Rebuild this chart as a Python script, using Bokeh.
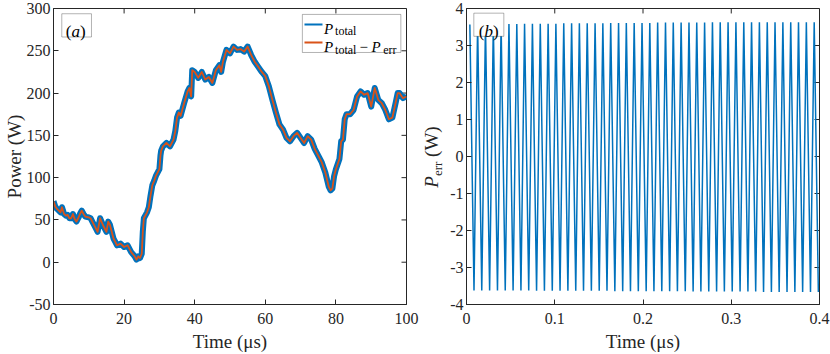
import math
from bokeh.plotting import figure
from bokeh.layouts import row
from bokeh.models import BoxAnnotation, Label, FixedTicker, Range1d, Div
from bokeh.embed import file_html
from bokeh.resources import INLINE

# ---------------- data ----------------
# Panel (a): P_total - P_err (W) versus time (us)
time_a = [0, 0.5, 1, 1.5, 2, 2.4, 3, 3.5, 4, 4.5,
          5, 5.5, 6, 6.5, 7, 7.5, 8, 8.5, 9, 10,
          10.5, 11, 12, 12.5, 13.2, 14, 15, 15.5, 16, 17,
          17.5, 18, 19, 20, 21, 22, 23, 23.5, 24, 24.5,
          25, 25.3, 25.6, 26.5, 27, 27.5, 28, 28.5, 29, 30,
          30.3, 30.5, 31, 32, 33, 34, 34.5, 35, 35.5, 36,
          37, 38, 38.5, 39, 39.3, 40, 41, 42, 43, 44,
          45, 46, 47, 47.5, 48, 49, 50, 51, 52, 53,
          54, 55, 56, 57, 58, 59, 60, 61, 62, 63,
          64, 65, 66, 67, 68, 69, 70, 71, 72, 73,
          74, 75, 76, 77, 78, 78.5, 79, 79.5, 80, 81,
          81.5, 82, 82.5, 83, 84, 85, 86, 87, 88, 89,
          90, 91, 92, 93, 94, 95, 96, 97, 97.5, 98,
          99, 100]
power_a = [72, 66, 63, 61, 59, 65, 57, 55, 56, 52,
           52, 57, 51, 48, 52, 57, 61, 57, 54, 53,
           52, 48, 40, 36, 52, 44, 36, 48, 44, 28,
           24, 20, 22, 18, 20, 12, 7, 3, 7, 5,
           10, 36, 52, 59, 65, 79, 91, 96, 102, 110,
           126, 132, 137, 141, 137, 145, 155, 171, 177, 173,
           188, 202, 206, 196, 227, 225, 218, 225, 216, 219,
           212, 227, 233, 225, 237, 251, 247, 255, 251, 252,
           249, 255, 245, 237, 231, 225, 220, 208, 192, 177,
           163, 157, 147, 143, 149, 153, 147, 141, 149, 145,
           134, 126, 118, 106, 89, 85, 87, 102, 110, 122,
           143, 145, 169, 175, 175, 180, 196, 202, 198, 200,
           184, 206, 192, 188, 180, 169, 171, 190, 200, 200,
           194, 196]

# Panel (b): P_err (W) -- sampled peaks (top) and troughs (bottom)
t_top = [0.0038, 0.0126, 0.0215, 0.0304, 0.0392, 0.0481, 0.0570, 0.0658, 0.0747, 0.0836,
         0.0925, 0.1013, 0.1102, 0.1191, 0.1279, 0.1368, 0.1457, 0.1545, 0.1634, 0.1723,
         0.1811, 0.1900, 0.1989, 0.2077, 0.2166, 0.2255, 0.2343, 0.2432, 0.2521, 0.2609,
         0.2698, 0.2787, 0.2875, 0.2964, 0.3053, 0.3142, 0.3230, 0.3319, 0.3408, 0.3496,
         0.3585, 0.3674, 0.3762, 0.3851, 0.3940]
v_top = [3.57, 3.57, 3.58, 3.58, 3.58, 3.58, 3.58, 3.59, 3.59, 3.59,
         3.59, 3.59, 3.60, 3.60, 3.60, 3.60, 3.60, 3.60, 3.61, 3.61,
         3.61, 3.61, 3.61, 3.61, 3.62, 3.62, 3.62, 3.62, 3.62, 3.62,
         3.62, 3.63, 3.63, 3.63, 3.63, 3.63, 3.63, 3.63, 3.63, 3.63,
         3.63, 3.63, 3.63, 3.63, 3.63]
t_bot = [0.0085, 0.0173, 0.0262, 0.0351, 0.0439, 0.0528, 0.0617, 0.0705, 0.0794, 0.0883,
         0.0972, 0.1060, 0.1149, 0.1238, 0.1326, 0.1415, 0.1504, 0.1592, 0.1681, 0.1770,
         0.1858, 0.1947, 0.2036, 0.2124, 0.2213, 0.2302, 0.2390, 0.2479, 0.2568, 0.2656,
         0.2745, 0.2834, 0.2922, 0.3011, 0.3100, 0.3189, 0.3277, 0.3366, 0.3455, 0.3543,
         0.3632, 0.3721, 0.3809, 0.3898, 0.3987]
v_bot = [-3.62, -3.62, -3.62, -3.62, -3.62, -3.62, -3.62, -3.62, -3.63, -3.63,
         -3.63, -3.63, -3.63, -3.63, -3.63, -3.63, -3.63, -3.63, -3.64, -3.64,
         -3.64, -3.64, -3.64, -3.64, -3.64, -3.64, -3.64, -3.64, -3.65, -3.65,
         -3.65, -3.65, -3.65, -3.65, -3.65, -3.65, -3.65, -3.66, -3.66, -3.66,
         -3.66, -3.66, -3.66, -3.66, -3.66]

x_ticks_a = [0, 20, 40, 60, 80, 100]
y_ticks_a = [-50, 0, 50, 100, 150, 200, 250, 300]
x_ticks_b = [0, 0.1, 0.2, 0.3, 0.4]
y_ticks_b = [-4, -3, -2, -1, 0, 1, 2, 3, 4]

t_err = [v for pair in zip(t_top, t_bot) for v in pair]
p_err = [v for pair in zip(v_top, v_bot) for v in pair]

# ---------------- style ----------------
FONT = "Liberation Serif"
AX = "#262626"
BLUE = "#0072BD"
ORANGE = "#D95319"
TICK_FS = "16px"
LABEL_FS = "19px"
H = 354


def make_fig(width, xr, yr, xticks, yticks, left, right, tick_dx, tick_dy):
    p = figure(width=width, height=H, x_range=Range1d(*xr), y_range=Range1d(*yr),
               output_backend="svg", toolbar_location=None,
               min_border_left=left, min_border_right=right,
               min_border_top=8, min_border_bottom=40)
    p.background_fill_color = "white"
    p.border_fill_color = "white"
    p.outline_line_color = AX
    p.outline_line_width = 1
    p.grid.visible = False
    xa = p.below[0]
    ya = p.left[0]
    xa.ticker = FixedTicker(ticks=xticks)
    ya.ticker = FixedTicker(ticks=yticks)
    xa.major_label_overrides = {t: ("-%g" % abs(t)) for t in xticks if t < 0}
    ya.major_label_overrides = {t: ("-%g" % abs(t)) for t in yticks if t < 0}
    for ax in (xa, ya):
        ax.major_tick_in = 5
        ax.major_tick_out = 0
        ax.minor_tick_line_color = None
        ax.axis_line_color = AX
        ax.major_tick_line_color = AX
        ax.major_label_text_font = FONT
        ax.major_label_text_font_size = TICK_FS
        ax.major_label_text_color = AX
        ax.axis_label_text_font = FONT
        ax.axis_label_text_font_size = LABEL_FS
        ax.axis_label_text_font_style = "normal"
        ax.axis_label_text_color = AX
    xa.major_label_standoff = 8
    xa.axis_label_standoff = 4
    ya.major_label_standoff = 3
    ya.axis_label_standoff = -1
    # inward ticks on the top and right edges of the box, at the same tick values
    xmax, ymax = xr[1], yr[1]
    p.segment(x0=xticks, y0=[ymax] * len(xticks), x1=xticks,
              y1=[ymax - tick_dy] * len(xticks), line_color=AX, line_width=1)
    p.segment(x0=[xmax] * len(yticks), y0=yticks, x1=[xmax - tick_dx] * len(yticks),
              y1=yticks, line_color=AX, line_width=1)
    return p, xa, ya


def txt(p, x, y, s, size, style="normal"):
    p.add_layout(Label(x=x, y=y, text=s, text_font=FONT, text_font_size=size,
                       text_font_style=style, text_color="black",
                       text_align="left", text_baseline="alphabetic"))


# ---------------- panel (a) ----------------
p1, xa1, ya1 = make_fig(426, (0, 100), (-50, 300), x_ticks_a, y_ticks_a, 53, 20,
                        5 / 3.53, 5 / 0.8514)
xa1.axis_label = "Time (\u03bcs)"
ya1.axis_label = "Power (W)"

p1.line(time_a, power_a, line_color=BLUE, line_width=6, line_join="round")
p1.line(time_a, power_a, line_color=ORANGE, line_width=1.8, line_join="round")

# panel tag (a)
p1.add_layout(BoxAnnotation(left=2.35, right=10.76, bottom=266.3, top=293.8,
                            fill_color="white", fill_alpha=1.0,
                            line_color="black", line_width=1))
txt(p1, 3.48, 273.0, "(", "17px")
txt(p1, 5.09, 273.0, "a", "17px", "italic")
txt(p1, 7.50, 273.0, ")", "17px")

# legend
p1.add_layout(BoxAnnotation(left=70.5, right=98.4, bottom=248.0, top=293.0,
                            fill_color="white", fill_alpha=1.0,
                            line_color="black", line_width=1))
p1.add_layout(BoxAnnotation(left=71.1, right=76.2, bottom=280.0, top=282.4,
                            fill_color=BLUE, fill_alpha=1.0, line_alpha=0))
p1.add_layout(BoxAnnotation(left=71.1, right=76.2, bottom=258.5, top=260.9,
                            fill_color=ORANGE, fill_alpha=1.0, line_alpha=0))
txt(p1, 76.65, 275.9, "P", "15px", "italic")
txt(p1, 79.76, 273.3, "total", "12px")
txt(p1, 76.65, 254.2, "P", "15px", "italic")
txt(p1, 79.76, 251.5, "total", "12px")
txt(p1, 86.70, 254.2, "\u2212", "15px")
txt(p1, 90.10, 254.2, "P", "15px", "italic")
txt(p1, 93.40, 251.5, "err", "12px")

# ---------------- y label of panel (b), as real HTML text ----------------
ylab_b = Div(
    text=('<div style="position:relative;width:20px;height:%dpx;">'
          '<div style="position:absolute;left:5px;top:157px;'
          'transform:translate(-50%%,-50%%) rotate(-90deg);white-space:nowrap;'
          'font-family:\'Liberation Serif\';font-size:19px;color:#262626;line-height:1;">'
          '<i>P</i><span style="font-size:13px;position:relative;top:4px;">err</span>'
          '&nbsp;(W)</div></div>') % H,
    width=20, height=H, margin=0)

# ---------------- panel (b) ----------------
p2, xa2, ya2 = make_fig(384, (0, 0.4), (-4, 4), x_ticks_b, y_ticks_b, 20, 11,
                        5 / 882.5, 5 / 37.25)
xa2.axis_label = "Time (\u03bcs)"

p2.line(t_err, p_err, line_color=BLUE, line_width=1.5)

# panel tag (b)
p2.add_layout(BoxAnnotation(left=0.0083, right=0.0423, bottom=3.248, top=3.874,
                            fill_color="white", fill_alpha=1.0,
                            line_color="black", line_width=1))
txt(p2, 0.0139, 3.383, "(", "17px")
txt(p2, 0.0204, 3.383, "b", "17px", "italic")
txt(p2, 0.0300, 3.383, ")", "17px")

layout = row(p1, ylab_b, p2, margin=0,
             styles={"position": "absolute", "left": "0px", "top": "0px"})

open("out.html", "w").write(file_html(layout, INLINE))
